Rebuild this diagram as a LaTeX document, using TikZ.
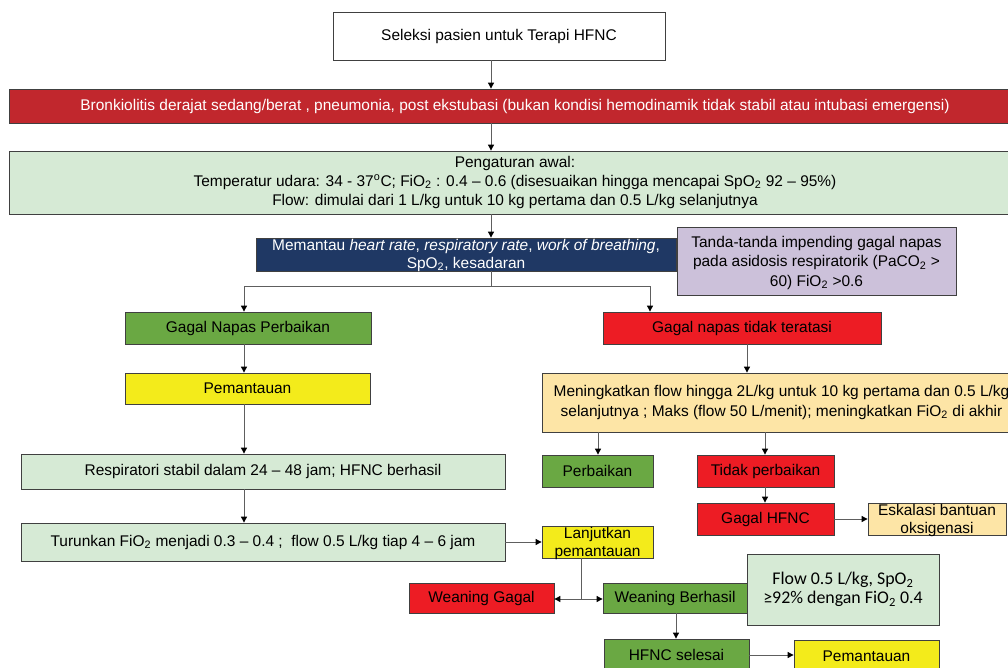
\documentclass[tikz,border=0pt]{standalone}
\usepackage{fontspec}
\setmainfont{Liberation Sans}
\newfontfamily\calib{Carlito}
\usetikzlibrary{arrows.meta}
\definecolor{banred}{HTML}{C1272D}
\definecolor{brred}{HTML}{ED1C24}
\definecolor{boxgreen}{HTML}{6AA843}
\definecolor{boxyellow}{HTML}{F3EB1B}
\definecolor{lightgreen}{HTML}{D6EAD5}
\definecolor{darkblue}{HTML}{1F3864}
\definecolor{lavender}{HTML}{CCC1DA}
\definecolor{lightorange}{HTML}{FDE5A6}
\definecolor{bordergray}{HTML}{404040}
\definecolor{linegray}{HTML}{5E5E5E}
\begin{document}
\begin{tikzpicture}[x=0.75pt,y=-0.75pt,
  box/.style={draw=bordergray, line width=0.6pt, inner sep=0pt, align=center,
              font=\fontsize{11.6}{14}\selectfont},
  lbl/.style={inner sep=0pt, align=center, font=\fontsize{11.6}{13}\selectfont},
  conn/.style={draw=linegray, line width=0.7pt},
  arr/.style={conn, -{Triangle[length=4.5pt,width=4.5pt,color=black]}}]
\useasboundingbox (0,0) rectangle (1008,668);
\clip (0,0) rectangle (1008,668);
\fill[white] (0,0) rectangle (1008,668);

% nodes
\node[box, fill=white, minimum width=249pt, minimum height=36pt] (sel) at (499,36) {Seleksi pasien untuk Terapi HFNC};
\node[box, fill=banred, text=white, minimum width=759pt, minimum height=25.5pt] (ban) at (515,106)
  {Bronkiolitis derajat sedang/berat , pneumonia, post ekstubasi (bukan kondisi hemodinamik tidak stabil atau intubasi emergensi)};
\node[box, fill=lightgreen, minimum width=759pt, minimum height=47.25pt] (init) at (515,182.5)
  {Pengaturan awal:\\Temperatur udara: 34 - 37\textsuperscript{o}C; FiO\textsubscript{2} : 0.4 – 0.6 (disesuaikan hingga mencapai SpO\textsubscript{2} 92 – 95\%)\\Flow: dimulai dari 1 L/kg untuk 10 kg pertama dan 0.5 L/kg selanjutnya};
\node[box, fill=darkblue, minimum width=315pt, minimum height=24.75pt] (mon) at (466,254.5) {};
\node[lbl, text=white] at ([yshift=-0.8pt]mon.center)
  {Memantau \textit{heart rate}, \textit{respiratory rate}, \textit{work of breathing},\\SpO\textsubscript{2}, kesadaran};
\node[box, fill=lavender, minimum width=209.25pt, minimum height=51pt] (imp) at (816.5,261) {};
\node[lbl, font=\fontsize{11.6}{14.6}\selectfont] at ([yshift=-1.4pt]imp.center)
  {Tanda-tanda impending gagal napas\\pada asidosis respiratorik (PaCO\textsubscript{2} >\\60) FiO\textsubscript{2} >0.6};

\node[box, fill=boxgreen, minimum width=184.5pt, minimum height=24pt] (gnp) at (248,328) {Gagal Napas Perbaikan};
\node[box, fill=brred, minimum width=208.5pt, minimum height=24pt] (gnt) at (742,328) {Gagal napas tidak teratasi};
\node[box, fill=boxyellow, minimum width=183.75pt, minimum height=23.25pt] (pem1) at (247.5,388.5) {Pemantauan};
\node[box, fill=lightgreen, minimum width=363pt, minimum height=26.25pt] (resp) at (263,471.5) {Respiratori stabil dalam 24 – 48 jam; HFNC berhasil};
\node[box, fill=lightgreen, minimum width=363pt, minimum height=28.5pt] (turun) at (263,542)
  {Turunkan FiO\textsubscript{2} menjadi 0.3 – 0.4 ;\ \ flow 0.5 L/kg tiap 4 – 6 jam};

\node[box, fill=lightorange, minimum width=359.25pt, minimum height=44.25pt, font=\fontsize{11.6}{15}\selectfont] (mening) at (781.5,402.5)
  {Meningkatkan flow hingga 2L/kg untuk 10 kg pertama dan 0.5 L/kg\\selanjutnya ; Maks (flow 50 L/menit); meningkatkan FiO\textsubscript{2} di akhir};
\node[box, fill=boxgreen, minimum width=83.25pt, minimum height=24pt] (perb) at (597.5,471) {Perbaikan};
\node[box, fill=brred, minimum width=102.75pt, minimum height=24pt] (tidak) at (765.5,471) {Tidak perbaikan};
\node[box, fill=brred, minimum width=102.75pt, minimum height=24pt] (ghfnc) at (765.5,519) {Gagal HFNC};
\node[box, fill=lightorange, minimum width=103.5pt, minimum height=24pt] (eskal) at (937,519) {};
\node[lbl, font=\fontsize{11.6}{13.6}\selectfont] at ([yshift=-1.2pt]eskal.center) {Eskalasi bantuan\\oksigenasi};
\node[box, fill=boxyellow, minimum width=83.25pt, minimum height=24pt] (lanj) at (597.5,542) {};
\node[lbl, font=\fontsize{11.6}{13.3}\selectfont] at ([yshift=-1.2pt]lanj.center) {Lanjutkan\\pemantauan};
\node[box, fill=brred, minimum width=108.75pt, minimum height=22.5pt] (wgagal) at (481.5,598) {Weaning Gagal};
\node[box, fill=boxgreen, minimum width=108pt, minimum height=22.5pt] (wber) at (675,598) {Weaning Berhasil};
\node[box, fill=lightgreen, minimum width=144pt, minimum height=53.25pt, font=\calib\fontsize{13.4}{14}\selectfont] (flowb) at (843,589.5)
  {Flow 0.5 L/kg, SpO\textsubscript{2}\\≥92\% dengan FiO\textsubscript{2} 0.4};
\node[box, fill=boxgreen, minimum width=108.75pt, minimum height=24pt] (hsel) at (676.5,655) {HFNC selesai};
\node[box, fill=boxyellow, minimum width=108.75pt, minimum height=24pt] (pem2) at (866.5,656) {Pemantauan};

% helper coordinates
\coordinate (ax) at (491,0);
\coordinate (split) at (491,286);
\coordinate (lx) at (244,0);
\coordinate (rx) at (650,0);
\coordinate (gx) at (747,0);
\coordinate (px) at (598,0);
\coordinate (tx) at (765,0);
\coordinate (lj) at (581,599);
\coordinate (wx) at (676,0);

% connectors
\draw[arr] (sel.south -| ax) -- (ban.north -| ax);
\draw[arr] (ban.south -| ax) -- (init.north -| ax);
\draw[arr] (init.south -| ax) -- (mon.north -| ax);
\draw[conn] (mon.south -| ax) -- (split);
\draw[arr] (split) -| (gnp.north -| lx);
\draw[arr] (split) -| (gnt.north -| rx);
\draw[arr] (gnp.south -| lx) -- (pem1.north -| lx);
\draw[arr] (pem1.south -| lx) -- (resp.north -| lx);
\draw[arr] (resp.south -| lx) -- (turun.north -| lx);
\draw[arr] (gnt.south -| gx) -- (mening.north -| gx);
\draw[arr] (mening.south -| px) -- (perb.north -| px);
\draw[arr] (mening.south -| tx) -- (tidak.north -| tx);
\draw[arr] (tidak.south -| tx) -- (ghfnc.north -| tx);
\draw[arr] (ghfnc.east) -- (eskal.west);
\draw[arr] (turun.east) -- (lanj.west);
\draw[conn] (lanj.south -| lj) -- (lj);
\draw[arr] (lj) -- (wgagal.east |- lj);
\draw[arr] (lj) -- (wber.west |- lj);
\draw[arr] (wber.south -| wx) -- (hsel.north -| wx);
\draw[arr] (hsel.east) -- (pem2.west |- hsel.east);
\end{tikzpicture}
\end{document}
